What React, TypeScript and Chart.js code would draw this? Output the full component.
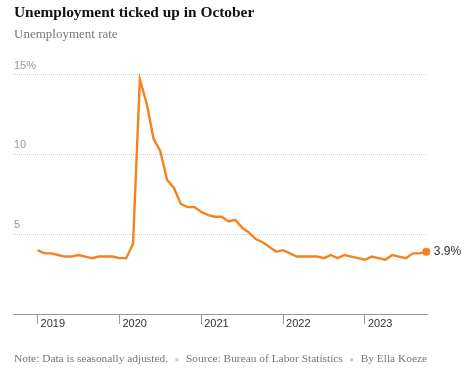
import React, { useEffect, useRef } from "react";
import { Chart, registerables } from "chart.js";

Chart.register(...registerables);

// Monthly unemployment rate, Jan 2019 – Oct 2023 (%)
const rate2019 = [4.0, 3.8, 3.8, 3.7, 3.6, 3.6, 3.7, 3.6, 3.5, 3.6, 3.6, 3.6];
const rate2020 = [3.5, 3.5, 4.4, 14.7, 13.2, 11.0, 10.2, 8.4, 7.9, 6.9, 6.7, 6.7];
const rate2021 = [6.4, 6.2, 6.1, 6.1, 5.8, 5.9, 5.4, 5.1, 4.7, 4.5, 4.2, 3.9];
const rate2022 = [4.0, 3.8, 3.6, 3.6, 3.6, 3.6, 3.5, 3.7, 3.5, 3.7, 3.6, 3.5];
const rate2023 = [3.4, 3.6, 3.5, 3.4, 3.7, 3.6, 3.5, 3.8, 3.8, 3.9];

const rates = [...rate2019, ...rate2020, ...rate2021, ...rate2022, ...rate2023];

const yearLabels = ["2019", "2020", "2021", "2022", "2023"];
const yearTickMonths = [0, 12, 24, 36, 48];
const yTickValues = [0, 5, 10, 15];

const ORANGE = "#f5821f";

const endLabelPlugin = {
  id: "endLabel",
  afterDatasetsDraw(chart: any) {
    const meta = chart.getDatasetMeta(0);
    const last = meta.data[meta.data.length - 1];
    if (!last) return;
    const ctx = chart.ctx;
    ctx.save();
    ctx.font = "12px 'Liberation Sans', Arial, sans-serif";
    ctx.fillStyle = "#333";
    ctx.textAlign = "left";
    ctx.textBaseline = "middle";
    ctx.fillText(`${rates[rates.length - 1]}%`, last.x + 7.5, last.y);
    ctx.restore();
  },
};

export default function App() {
  const canvasRef = useRef<HTMLCanvasElement | null>(null);

  useEffect(() => {
    if (!canvasRef.current) return;
    const lastIdx = rates.length - 1;
    const chart = new Chart(canvasRef.current, {
      type: "line",
      data: {
        datasets: [
          {
            data: rates.map((v, i) => ({ x: i, y: v })),
            borderColor: ORANGE,
            borderWidth: 2.4,
            backgroundColor: ORANGE,
            pointRadius: (c: any) => (c.dataIndex === lastIdx ? 4 : 0),
            pointBackgroundColor: ORANGE,
            pointBorderWidth: 0,
            pointHoverRadius: 0,
            tension: 0,
            clip: false as any,
          },
        ],
      },
      options: {
        animation: false,
        responsive: false,
        maintainAspectRatio: false,
        events: [],
        layout: { padding: { left: 11, right: 47, top: 74.7, bottom: 52.8 } },
        plugins: {
          legend: { display: false },
          tooltip: { enabled: false },
          title: { display: false },
        },
        scales: {
          x: {
            type: "linear",
            min: -3.6,
            max: 57.1,
            afterBuildTicks: (scale: any) => {
              scale.ticks = yearTickMonths.map((v) => ({ value: v }));
            },
            grid: {
              drawOnChartArea: false,
              drawTicks: true,
              tickLength: 10,
              color: "#999",
            },
            border: { display: true, color: "#999", width: 1 },
            title: { display: true, text: " ", padding: 0, font: { size: 10 } },
            ticks: {
              autoSkip: false,
              maxRotation: 0,
              align: "start",
              labelOffset: 3,
              padding: -7,
              color: "#333",
              font: { family: "'Liberation Sans', Arial, sans-serif", size: 11 },
              callback: (value: any) => {
                const idx = yearTickMonths.indexOf(Number(value));
                return idx >= 0 ? yearLabels[idx] : "";
              },
            },
          },
          y: {
            type: "linear",
            min: 0,
            max: 15,
            afterBuildTicks: (scale: any) => {
              scale.ticks = yTickValues.map((v) => ({ value: v }));
            },
            grid: {
              drawTicks: false,
              color: (c: any) => (c.tick && c.tick.value === 0 ? "rgba(0,0,0,0)" : "#cfcfcf"),
              lineWidth: 1,
            },
            border: { display: false, dash: [1, 1] },
            ticks: {
              mirror: true,
              padding: 1,
              labelOffset: -9,
              color: "#999",
              font: { family: "'Liberation Sans', Arial, sans-serif", size: 11 },
              callback: (value: any) => {
                const v = Number(value);
                if (v === 0) return "";
                return v === 15 ? "15%" : String(v);
              },
            },
          },
        },
      },
      plugins: [endLabelPlugin],
    } as any);
    return () => chart.destroy();
  }, []);

  const serif = "'Liberation Serif', 'Times New Roman', serif";

  return (
    <div style={{ position: "absolute", left: 0, top: 0, width: 474, height: 388, background: "#fff", overflow: "hidden" }}>
      <canvas ref={canvasRef} width={474} height={388} style={{ position: "absolute", left: 0, top: 0, width: 474, height: 388 }} />
      <div style={{ position: "absolute", left: 14, top: 3.5, fontFamily: serif, fontWeight: 700, fontSize: 15.4, lineHeight: "16px", color: "#121212", whiteSpace: "nowrap" }}>
        Unemployment ticked up in October
      </div>
      <div style={{ position: "absolute", left: 14, top: 26.5, fontFamily: serif, fontSize: 13, lineHeight: "13px", color: "#777", whiteSpace: "nowrap" }}>
        Unemployment rate
      </div>
      <div style={{ position: "absolute", left: 14, top: 353, fontFamily: serif, fontSize: 11.4, lineHeight: "11.5px", color: "#777", whiteSpace: "nowrap" }}>
        <span>Note: Data is seasonally adjusted.</span>
        <span style={{ color: "#ccc", margin: "0 6.5px", fontSize: 8 }}>●</span>
        <span>Source: Bureau of Labor Statistics</span>
        <span style={{ color: "#ccc", margin: "0 6.5px", fontSize: 8 }}>●</span>
        <span>By Ella Koeze</span>
      </div>
    </div>
  );
}
